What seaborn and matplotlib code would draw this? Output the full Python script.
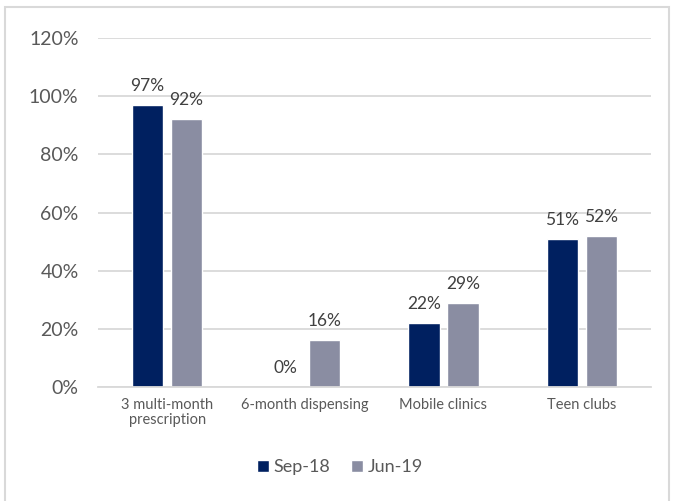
import matplotlib
matplotlib.use("Agg")
import matplotlib.pyplot as plt
import seaborn as sns
import pandas as pd
from matplotlib.patches import Rectangle

# data
categories = ["3 multi-month\nprescription", "6-month dispensing", "Mobile clinics", "Teen clubs"]
series_names = ["Sep-18", "Jun-19"]
sep18 = [97, 0, 22, 51]
jun19 = [92, 16, 29, 52]
y_ticks = [0, 20, 40, 60, 80, 100, 120]

colors = ["#002060", "#8a8da2"]
text_color = "#595959"

df = pd.DataFrame({
    "category": categories * 2,
    "period": [series_names[0]] * 4 + [series_names[1]] * 4,
    "value": sep18 + jun19,
})

sns.set_theme(style="white")
plt.rcParams["font.family"] = ["Lato", "DejaVu Sans"]

fig = plt.figure(figsize=(6.73, 5.01), dpi=100)
ax = fig.add_axes([0.1456, 0.2275, 0.8214, 0.6965])

sns.barplot(data=df, x="category", y="value", hue="period", order=categories,
            hue_order=series_names, palette=colors, width=0.565, gap=0.2,
            saturation=1, ax=ax, legend=True)

for cont in ax.containers:
    ax.bar_label(cont, labels=[f"{v:.0f}%" for v in cont.datavalues],
                 padding=8, fontsize=12.5, color="#404040")

ax.set_ylim(0, 120)
ax.set_yticks(y_ticks)
ax.set_yticklabels([f"{t}%" for t in y_ticks], fontsize=14, color=text_color)
ax.set_xticks(range(len(categories)))
ax.set_xticklabels(categories, fontsize=10.5, color=text_color, linespacing=1.05)
ax.tick_params(axis="x", length=0, pad=8)
ax.tick_params(axis="y", length=0, pad=14)
ax.set_xlabel("")
ax.set_ylabel("")
ax.yaxis.grid(True, color="#d9d9d9", linewidth=1.3)
ax.set_axisbelow(True)
for s in ["top", "right", "left"]:
    ax.spines[s].set_visible(False)
ax.spines["bottom"].set_color("#d9d9d9")
ax.spines["bottom"].set_linewidth(1.3)

handles, labels = ax.get_legend_handles_labels()
ax.legend_.remove()
fig.legend(handles, labels, loc="center", bbox_to_anchor=(0.505, 0.068), ncol=2,
           frameon=False, fontsize=13, handlelength=0.65, handleheight=0.65,
           handletextpad=0.25, columnspacing=1.2, labelcolor=text_color)

fig.patches.append(Rectangle((0.008, -0.01), 0.986, 0.996, transform=fig.transFigure,
                             fill=False, edgecolor="#d9d9d9", linewidth=1.5))

fig.savefig("out.png", dpi=100)
